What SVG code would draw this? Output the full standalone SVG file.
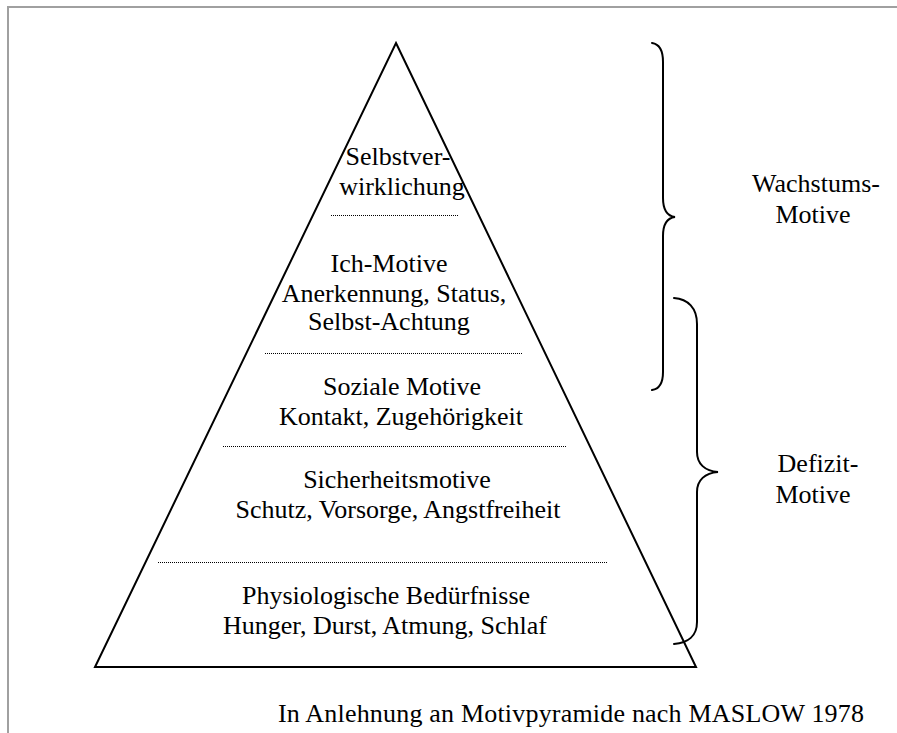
<svg xmlns="http://www.w3.org/2000/svg" width="897" height="733" viewBox="0 0 897 733">
  <style>
    text { font-family: "Liberation Serif", "Times New Roman", Times, Tinos, "Noto Serif", "DejaVu Serif", FreeSerif, serif; font-size: 26px; fill: #000; }
    .t { text-anchor: middle; }
    .l { text-anchor: start; }
    .sep { stroke: #000; stroke-width: 1; stroke-dasharray: 1 1; fill: none; }
    .brace { stroke: #000; stroke-width: 2; fill: none; stroke-linecap: round; }
  </style>

  <rect x="0" y="0" width="897" height="733" fill="#fff"/>

  <!-- page frame -->
  <g id="frame" fill="none" stroke="#a0a0a0" stroke-width="2">
    <path d="M8,733 V7 H897"/>
  </g>

  <!-- pyramid outline -->
  <g id="pyramid">
    <path d="M396,43 L696,667 L95,667 Z" fill="none" stroke="#000" stroke-width="2" stroke-linejoin="miter"/>
  </g>

  <!-- level separators -->
  <g id="separators">
    <line class="sep" x1="331" y1="215.5" x2="459" y2="215.5"/>
    <line class="sep" x1="265" y1="353.5" x2="523" y2="353.5"/>
    <line class="sep" x1="223" y1="446.5" x2="566" y2="446.5"/>
    <line class="sep" x1="158" y1="562.5" x2="608" y2="562.5"/>
  </g>

  <g id="level-selbstverwirklichung">
    <text class="t" x="398" y="165">Selbstver-</text>
    <text class="t" x="402" y="195">wirklichung</text>
  </g>

  <g id="level-ich-motive">
    <text class="t" x="389" y="272">Ich-Motive</text>
    <text class="t" x="394" y="302">Anerkennung, Status,</text>
    <text class="t" x="389" y="330">Selbst-Achtung</text>
  </g>

  <g id="level-soziale-motive">
    <text class="t" x="402" y="395">Soziale Motive</text>
    <text class="t" x="401" y="425">Kontakt, Zugehörigkeit</text>
  </g>

  <g id="level-sicherheit">
    <text class="t" x="397" y="488">Sicherheitsmotive</text>
    <text class="t" x="398" y="518">Schutz, Vorsorge, Angstfreiheit</text>
  </g>

  <g id="level-physiologie">
    <text class="t" x="386" y="604">Physiologische Bedürfnisse</text>
    <text class="t" x="385" y="634">Hunger, Durst, Atmung, Schlaf</text>
  </g>

  <g id="label-wachstum">
    <text class="t" x="816" y="192">Wachstums-</text>
    <text class="t" x="813" y="223">Motive</text>
  </g>

  <g id="label-defizit">
    <text class="t" x="818" y="472">Defizit-</text>
    <text class="t" x="813" y="503">Motive</text>
  </g>

  <g id="caption">
    <text class="l" x="278" y="722" textLength="586" lengthAdjust="spacing">In Anlehnung an Motivpyramide nach MASLOW 1978</text>
  </g>

  <!-- curly braces grouping the levels -->
  <g id="connectors">
    <path class="brace" d="M652,43 C659,44 663,50 663,62 V198 C663,210 667,216 675,217 C667,218 663,224 663,236 V372 C663,384 659,389 652,390"/>
    <path class="brace" d="M674,298 C688,299 697,308 697,324 V452 C697,464 705,471 718,472 C705,473 697,480 697,492 V622 C697,636 688,643 674,644"/>
  </g>
</svg>
